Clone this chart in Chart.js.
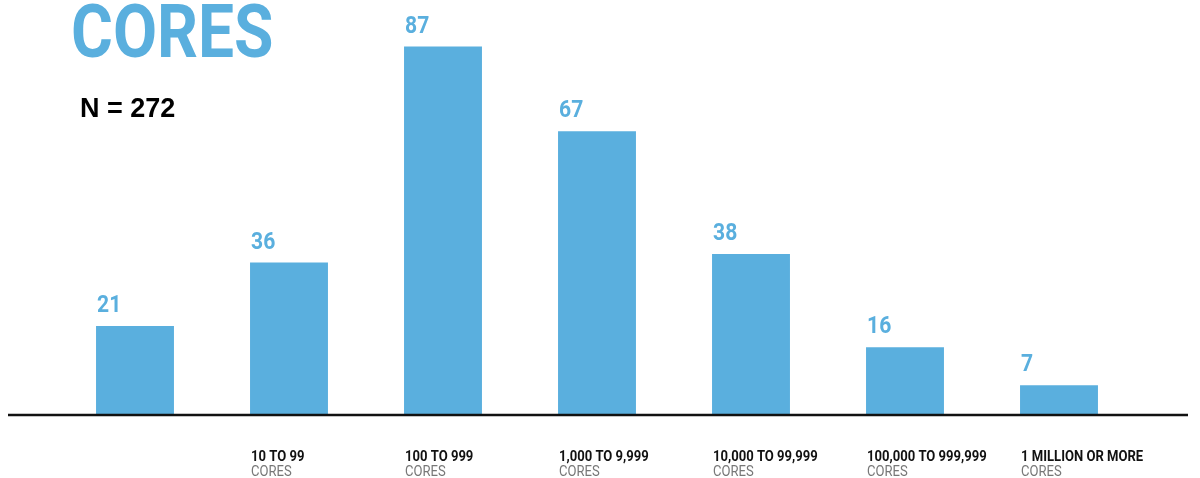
<!DOCTYPE html>
<html>
<head>
<meta charset="utf-8">
<script src="https://cdn.jsdelivr.net/npm/chart.js@4.4.1/dist/chart.umd.min.js"></script>
<style>
  html, body { margin: 0; padding: 0; background: #fff; }
  #wrap { width: 1200px; height: 478px; }
</style>
</head>
<body>
<div id="wrap"><canvas id="coresChart" width="1200" height="478"></canvas></div>
<script>
// data
const rangeLabels = ['', '10 TO 99', '100 TO 999', '1,000 TO 9,999', '10,000 TO 99,999', '100,000 TO 999,999', '1 MILLION OR MORE'];
const unitLabel = 'CORES';
const respondents = [21, 36, 87, 67, 38, 16, 7];
const titleText = 'CORES';
const sampleText = 'N = 272';

const BLUE = '#5aafde';

// draws text squeezed horizontally, to mimic a condensed face
function squeezed(ctx, text, x, y, sx) {
    ctx.save();
    ctx.translate(x, y);
    ctx.scale(sx, 1);
    ctx.fillText(text, 0, 0);
    ctx.restore();
}

const labelPlugin = {
    id: 'labels',
    afterDatasetsDraw(chart) {
        const ctx = chart.ctx;
        const meta = chart.getDatasetMeta(0);
        const yZero = chart.scales.y.getPixelForValue(0);

        // baseline runs past the bars
        ctx.save();
        ctx.strokeStyle = '#111';
        ctx.lineWidth = 2.5;
        ctx.beginPath();
        ctx.moveTo(8, yZero);
        ctx.lineTo(1188, yZero);
        ctx.stroke();

        ctx.textAlign = 'left';
        ctx.textBaseline = 'alphabetic';

        meta.data.forEach((bar, i) => {
            const left = bar.x - bar.width / 2;
            // value on top
            ctx.fillStyle = BLUE;
            ctx.font = 'bold 24px Roboto';
            squeezed(ctx, String(respondents[i]), left + 1, bar.y - 14, 0.88);

            // category under the axis
            if (rangeLabels[i]) {
                ctx.fillStyle = '#111';
                ctx.font = 'bold 14.5px Roboto';
                squeezed(ctx, rangeLabels[i], left + 1, 461, 0.9);
                ctx.fillStyle = '#777';
                ctx.font = '14.5px Roboto';
                squeezed(ctx, unitLabel, left + 1, 476, 0.9);
            }
        });

        // heading
        ctx.fillStyle = BLUE;
        ctx.font = 'bold 74px Roboto';
        squeezed(ctx, titleText, 71, 57, 0.865);

        ctx.fillStyle = '#000';
        ctx.font = 'bold 27px "Liberation Sans"';
        ctx.fillText(sampleText, 80, 117);
        ctx.restore();
    }
};

new Chart(document.getElementById('coresChart'), {
    type: 'bar',
    data: {
        labels: rangeLabels,
        datasets: [{
            data: respondents,
            backgroundColor: BLUE,
            borderWidth: 0,
            categoryPercentage: 1,
            barPercentage: 0.506
        }]
    },
    options: {
        responsive: false,
        animation: false,
        layout: { padding: { left: 58, right: 64, top: 0, bottom: 63 } },
        scales: {
            x: { display: false },
            y: { display: false, min: 0, max: 98 }
        },
        plugins: {
            legend: { display: false },
            tooltip: { enabled: false }
        }
    },
    plugins: [labelPlugin]
});
</script>
</body>
</html>
